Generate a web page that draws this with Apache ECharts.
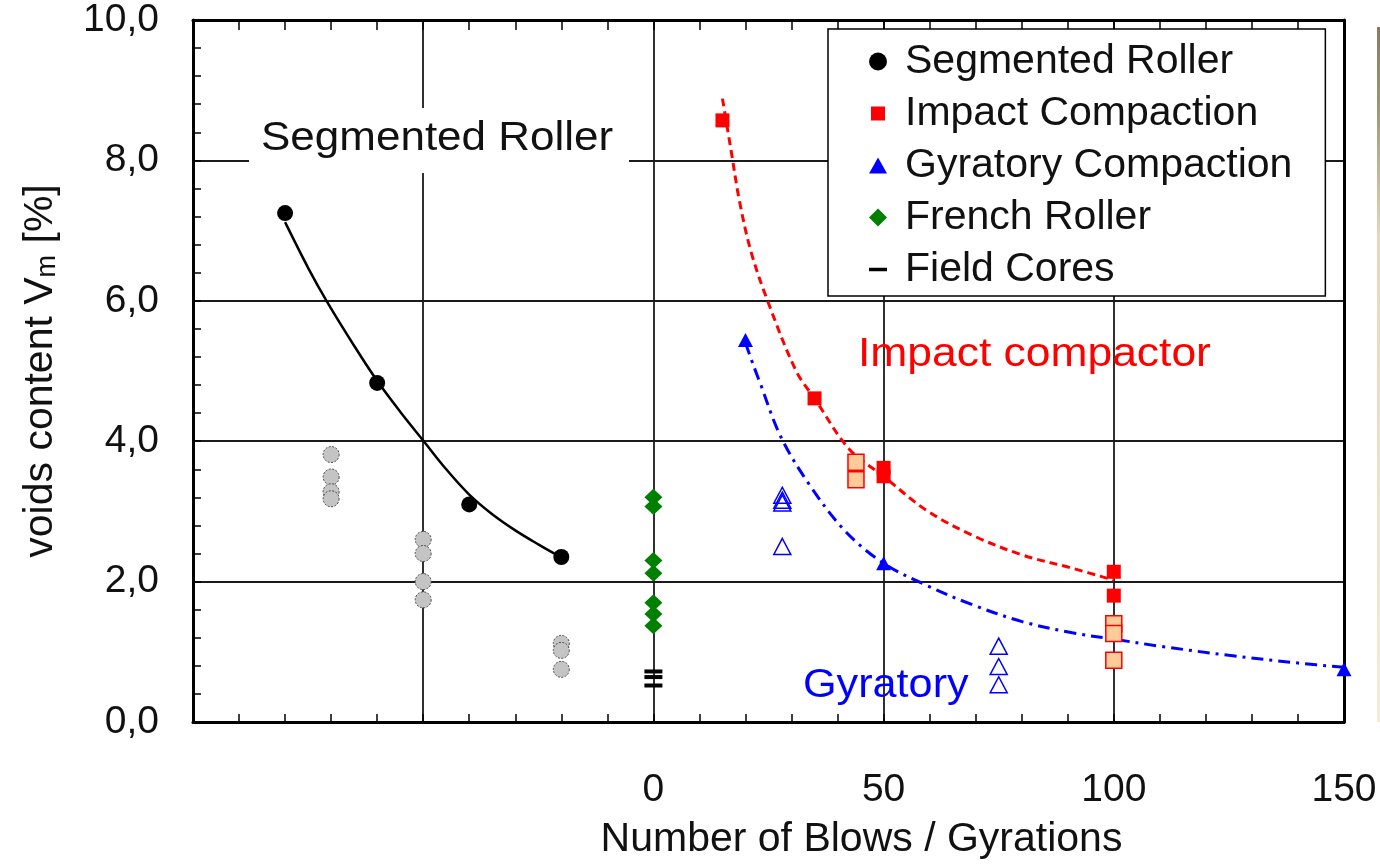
<!DOCTYPE html>
<html>
<head>
<meta charset="utf-8">
<script src="https://cdn.jsdelivr.net/npm/echarts@6/dist/echarts.min.js"></script>
<style>
  html, body { margin: 0; padding: 0; background: #fff; }
  #chart { width: 1380px; height: 865px; }
</style>
</head>
<body>
<div id="chart"></div>
<script>
// Voids content versus compaction effort (blows / gyrations / roller passes)

// Segmented roller (plotted on the negative side of the axis)
const segX  = [-80, -60, -40, -20];
const segVm = [7.25, 4.83, 3.10, 2.35];
const segCoreX  = [-70, -70, -70, -70, -50, -50, -50, -50, -20, -20, -20];
const segCoreVm = [3.81, 3.49, 3.28, 3.18, 2.60, 2.40, 2.00, 1.74, 1.12, 1.02, 0.75];
const segFitX  = [-80, -75, -71, -65, -60, -55, -50, -45, -40, -35, -30, -25, -21];
const segFitVm = [7.12, 6.47, 6.00, 5.36, 4.86, 4.42, 4.01, 3.60, 3.24, 2.96, 2.73, 2.53, 2.38];

// Impact compaction
const impX  = [15, 35, 50, 50, 100, 100];
const impVm = [8.57, 4.61, 3.62, 3.50, 2.14, 1.80];
const impCoreX  = [44, 44, 100, 100, 100];
const impCoreVm = [3.70, 3.45, 1.40, 1.26, 0.88];
const impFitX  = [15, 16.8, 18.7, 21.2, 24.8, 31, 35, 42.5, 50, 59.2, 69.3, 80.1, 91, 100];
const impFitVm = [8.88, 8.17, 7.42, 6.70, 6.00, 5.00, 4.61, 3.89, 3.50, 3.02, 2.66, 2.38, 2.19, 2.02];

// Gyratory compaction
const gyrX  = [20, 50, 150];
const gyrVm = [5.44, 2.26, 0.75];
const gyrCoreX  = [28, 28, 28, 28, 75, 75, 75];
const gyrCoreVm = [3.23, 3.16, 3.12, 2.50, 1.08, 0.79, 0.53];
const gyrFitX  = [20, 21.9, 23, 27.7, 34.2, 41.8, 50, 59.2, 69.3, 80.1, 91, 100, 110, 125, 140, 150];
const gyrFitVm = [5.40, 5.05, 4.86, 4.06, 3.35, 2.71, 2.26, 1.95, 1.67, 1.43, 1.27, 1.18, 1.08, 0.95, 0.84, 0.78];

// French roller and field cores (at zero)
const frX  = [0, 0, 0, 0, 0, 0, 0];
const frVm = [3.20, 3.07, 2.30, 2.12, 1.70, 1.54, 1.37];
const fcX  = [0, 0, 0];
const fcVm = [0.72, 0.64, 0.52];

// Axis ticks
const xTicks = { min: -100, max: 150, step: 50 };
const yTicks = { min: 0, max: 10, step: 2 };

const legendNames = ['Segmented Roller', 'Impact Compaction', 'Gyratory Compaction', 'French Roller', 'Field Cores'];

const FONT = '"Liberation Sans", Arial, Helvetica, sans-serif';
const pts = (xs, ys) => xs.map((x, i) => [x, ys[i]]);

const chart = echarts.init(document.getElementById('chart'), null, { renderer: 'canvas' });

const axisLine = { show: true, onZero: false, lineStyle: { color: '#000', width: 3 } };
const tickStyle = { color: '#000', width: 1.5 };
const gridLine = { show: true, lineStyle: { color: '#1a1a1a', width: 1.8 } };

chart.setOption({
  animation: false,
  backgroundColor: '#fff',
  textStyle: { fontFamily: FONT },
  grid: { left: 193, top: 20, width: 1151, height: 706, containLabel: false },
  xAxis: [
    {
      type: 'value', position: 'bottom',
      min: xTicks.min, max: xTicks.max, interval: xTicks.step,
      axisLine: axisLine,
      axisTick: { show: true, inside: true, length: 8, lineStyle: tickStyle },
      minorTick: { show: true, splitNumber: 5, length: 8, lineStyle: tickStyle },
      splitLine: gridLine,
      axisLabel: {
        formatter: v => (v < 0 ? '' : String(v)),
        fontSize: 39, color: '#111', margin: 49, fontFamily: FONT
      },
      name: 'Number of Blows / Gyrations',
      nameLocation: 'middle', nameGap: 97,
      nameTextStyle: { fontSize: 41, color: '#111', fontFamily: FONT, padding: [0, 0, 0, 186] }
    },
    {
      type: 'value', position: 'top',
      min: xTicks.min, max: xTicks.max, interval: xTicks.step,
      axisLine: axisLine,
      axisTick: { show: true, inside: true, length: 10, lineStyle: tickStyle },
      minorTick: { show: true, splitNumber: 5, length: 10, lineStyle: tickStyle },
      splitLine: { show: false },
      axisLabel: { show: false }
    }
  ],
  yAxis: [
    {
      type: 'value', position: 'left',
      min: yTicks.min, max: yTicks.max, interval: yTicks.step,
      axisLine: axisLine,
      axisTick: { show: true, inside: true, length: 8, lineStyle: tickStyle },
      minorTick: { show: true, splitNumber: 5, length: 8, lineStyle: tickStyle },
      splitLine: gridLine,
      axisLabel: {
        formatter: v => v.toFixed(1).replace('.', ','),
        fontSize: 39, color: '#111', margin: 34, fontFamily: FONT
      },
      name: 'voids content V{sub|m} [%]',
      nameLocation: 'middle', nameRotate: 90, nameGap: 132,
      nameTextStyle: {
        fontSize: 41, color: '#111', fontFamily: FONT,
        rich: { sub: { fontSize: 27, color: '#111', fontFamily: FONT, verticalAlign: 'bottom' } }
      }
    },
    {
      type: 'value', position: 'right',
      min: yTicks.min, max: yTicks.max, interval: yTicks.step,
      axisLine: axisLine,
      axisTick: { show: false },
      splitLine: { show: false },
      axisLabel: { show: false }
    }
  ],
  legend: {
    data: [
      { name: legendNames[0], icon: 'circle' },
      { name: legendNames[1], icon: 'path://M0,0M18,18M2,2H16V16H2Z' },
      { name: legendNames[2], icon: 'path://M0,0M18,18M9,1L18,17H0Z' },
      { name: legendNames[3], icon: 'diamond' },
      { name: legendNames[4], icon: 'path://M0,0H18V3.5H0Z' }
    ],
    orient: 'vertical',
    left: 828, top: 29,
    padding: [12, 33, 6, 41],
    itemGap: 11, itemWidth: 18, itemHeight: 18,
    symbolKeepAspect: true,
    selectedMode: false,
    backgroundColor: '#fff',
    borderColor: '#000', borderWidth: 1.5,
    textStyle: { fontSize: 41, lineHeight: 40, color: '#111', fontFamily: FONT, padding: [0, 0, 0, 13] }
  },
  graphic: [
    {
      type: 'rect', z: 3, silent: true,
      shape: { x: 249, y: 108, width: 380, height: 65 },
      style: { fill: '#fff' }
    },
    {
      type: 'text', z: 4, silent: true, x: 261, y: 139, scaleX: 1.1,
      style: { text: 'Segmented Roller', fontSize: 40, fontFamily: FONT, fill: '#111', align: 'left', verticalAlign: 'middle' }
    },
    {
      type: 'text', z: 4, silent: true, x: 858, y: 355, scaleX: 1.11,
      style: { text: 'Impact compactor', fontSize: 40, fontFamily: FONT, fill: '#ff0000', align: 'left', verticalAlign: 'middle' }
    },
    {
      type: 'text', z: 4, silent: true, x: 803, y: 686, scaleX: 1.08,
      style: { text: 'Gyratory', fontSize: 40, fontFamily: FONT, fill: '#0000ff', align: 'left', verticalAlign: 'middle' }
    },
    {
      // thin decorative strip along the right edge
      type: 'rect', silent: true,
      shape: { x: 1377, y: 27, width: 3, height: 695 },
      style: {
        fill: new echarts.graphic.LinearGradient(0, 0, 0, 1, [
          { offset: 0, color: '#8a7a5c' },
          { offset: 0.12, color: '#a8946e' },
          { offset: 0.3, color: '#e6d6ba' },
          { offset: 1, color: '#f4ebdb' }
        ])
      }
    }
  ],
  series: [
    {
      name: 'Segmented Roller fit', type: 'line', z: 2,
      data: pts(segFitX, segFitVm), smooth: 0.35, showSymbol: false, symbol: 'none',
      lineStyle: { color: '#000', width: 2.5 }, silent: true
    },
    {
      name: 'Impact Compaction fit', type: 'line', z: 2,
      data: pts(impFitX, impFitVm), smooth: 0.35, showSymbol: false, symbol: 'none',
      lineStyle: { color: '#ff0000', width: 3, type: [8, 5] }, silent: true
    },
    {
      name: 'Gyratory Compaction fit', type: 'line', z: 2,
      data: pts(gyrFitX, gyrFitVm), smooth: 0.35, showSymbol: false, symbol: 'none',
      lineStyle: { color: '#0000ff', width: 3, type: [12, 6, 3, 6] }, silent: true
    },
    {
      name: 'Segmented Roller cores', type: 'scatter', z: 3,
      data: pts(segCoreX, segCoreVm), symbol: 'circle', symbolSize: 16,
      itemStyle: { color: '#c4c4c4', borderColor: '#444', borderWidth: 1, borderType: [2, 1.5], opacity: 1 }
    },
    {
      name: legendNames[0], type: 'scatter', z: 4,
      data: pts(segX, segVm), symbol: 'circle', symbolSize: 16,
      itemStyle: { color: '#000', opacity: 1 }
    },
    {
      name: 'Impact Compaction cores', type: 'scatter', z: 3,
      data: pts(impCoreX, impCoreVm), symbol: 'rect', symbolSize: 16,
      itemStyle: { color: '#ffcc99', borderColor: '#ff0000', borderWidth: 1.5, opacity: 1 }
    },
    {
      name: legendNames[1], type: 'scatter', z: 4,
      data: pts(impX, impVm), symbol: 'rect', symbolSize: 14,
      itemStyle: { color: '#ff0000', opacity: 1 }
    },
    {
      name: 'Gyratory Compaction cores', type: 'scatter', z: 3,
      data: pts(gyrCoreX, gyrCoreVm), symbol: 'triangle', symbolSize: [17, 16],
      itemStyle: { color: 'rgba(255,255,255,0)', borderColor: '#0000ff', borderWidth: 1.5, opacity: 1 }
    },
    {
      name: legendNames[2], type: 'scatter', z: 4,
      data: pts(gyrX, gyrVm), symbol: 'triangle', symbolSize: [15, 14],
      itemStyle: { color: '#0000ff', opacity: 1 }
    },
    {
      name: legendNames[3], type: 'scatter', z: 4,
      data: pts(frX, frVm), symbol: 'diamond', symbolSize: [18, 17],
      itemStyle: { color: '#008000', opacity: 1 }
    },
    {
      name: legendNames[4], type: 'scatter', z: 4,
      data: pts(fcX, fcVm), symbol: 'rect', symbolSize: [18, 4],
      itemStyle: { color: '#000', opacity: 1 }
    }
  ]
});
</script>
</body>
</html>
